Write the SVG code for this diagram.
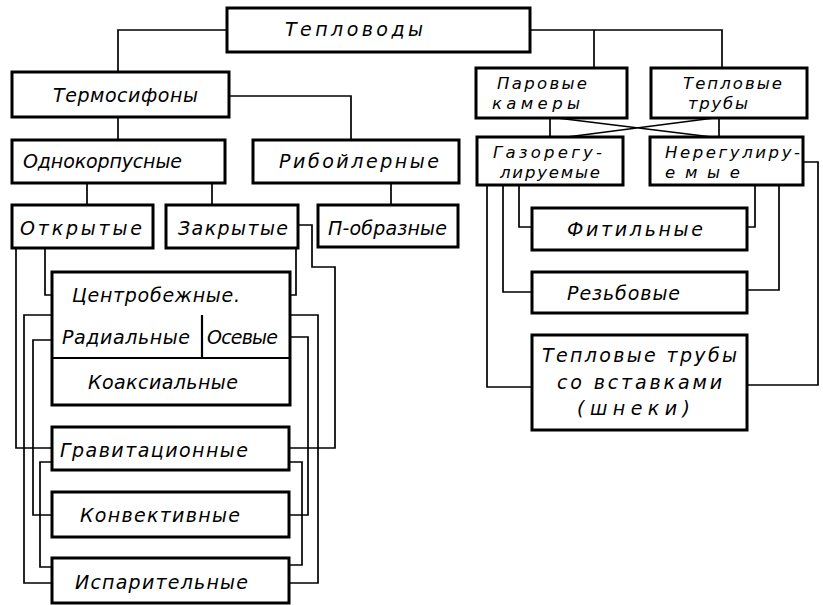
<svg xmlns="http://www.w3.org/2000/svg" width="823" height="605" viewBox="0 0 823 605">
<style>
.b{fill:#fff;stroke:#000;stroke-width:3}
.d{stroke:#000;stroke-width:2.2;fill:none}
.c{fill:none;stroke:#000;stroke-width:1.7}
text{font-family:"DejaVu Sans","Liberation Sans",sans-serif;font-style:italic;font-size:19px;fill:#000}
text.s{font-size:16.5px}
</style>
<rect width="823" height="605" fill="#fff"/>
<g id="connectors">
<path class="c" d="M227,30H118V72M530,30H722V68M594,30V68M229,96H351V140M118,117V140M87,183V205M212,183V205M391,183V205"/>
<path class="c" d="M16,248V448H52M45,248V295H52M296,248V295H290M298,225H312V267H335V448H289"/>
<path class="c" d="M52,583H24V315H318V583H289"/>
<path class="c" d="M52,340H33V515H52M290,337H308V515H289"/>
<path class="c" d="M52,462H40V567H52M289,462H302V565H289"/>
<path class="c" d="M550,118V137M719,118V137M557,118L712,137M567,137L714,118"/>
<path class="c" d="M487,185V387H532M503,185V292H532M519,185V227H532"/>
<path class="c" d="M755,185V227H747M779,185V290H747M803,162H818V385H747"/>
</g>
<g id="teplovody"><rect class="b" x="227" y="8" width="303" height="44"/><text x="285" y="36" textLength="138" lengthAdjust="spacing">Тепловоды</text></g>
<g id="termosifony"><rect class="b" x="12" y="72" width="217" height="45"/><text x="53" y="102" textLength="145" lengthAdjust="spacing">Термосифоны</text></g>
<g id="odnokorpusnye"><rect class="b" x="12" y="140" width="213" height="43"/><text x="23" y="168" textLength="159" lengthAdjust="spacing">Однокорпусные</text></g>
<g id="riboilernye"><rect class="b" x="253" y="140" width="206" height="43"/><text x="279" y="168" textLength="160" lengthAdjust="spacing">Рибойлерные</text></g>
<g id="otkrytye"><rect class="b" x="12" y="205" width="141" height="43"/><text x="20" y="235" textLength="122" lengthAdjust="spacing">Открытые</text></g>
<g id="zakrytye"><rect class="b" x="166" y="205" width="132" height="43"/><text x="178" y="235" textLength="110" lengthAdjust="spacing">Закрытые</text></g>
<g id="p-obraznye"><rect class="b" x="318" y="205" width="140" height="42"/><text x="328" y="235" textLength="119" lengthAdjust="spacing">П-образные</text></g>
<g id="centrobezhnye">
<rect class="b" x="52" y="272" width="238" height="133"/>
<path class="d" d="M52,358H290M202,315V358"/>
<text x="72" y="302" textLength="168" lengthAdjust="spacing">Центробежные.</text>
<text x="62" y="344" textLength="128" lengthAdjust="spacing">Радиальные</text>
<text x="207" y="344" textLength="71" lengthAdjust="spacing">Осевые</text>
<text x="88" y="389" textLength="150" lengthAdjust="spacing">Коаксиальные</text>
</g>
<g id="gravitacionnye"><rect class="b" x="52" y="427" width="237" height="43"/><text x="60" y="457" textLength="188" lengthAdjust="spacing">Гравитационные</text></g>
<g id="konvektivnye"><rect class="b" x="52" y="492" width="237" height="45"/><text x="80" y="522" textLength="160" lengthAdjust="spacing">Конвективные</text></g>
<g id="isparitelnye"><rect class="b" x="52" y="558" width="237" height="45"/><text x="75" y="589" textLength="173" lengthAdjust="spacing">Испарительные</text></g>
<g id="parovye-kamery"><rect class="b" x="476" y="68" width="151" height="50"/><text class="s" x="497" y="89" textLength="90" lengthAdjust="spacing">Паровые</text><text class="s" x="492" y="109" textLength="88" lengthAdjust="spacing">камеры</text></g>
<g id="teplovye-truby"><rect class="b" x="651" y="68" width="156" height="50"/><text class="s" x="683" y="89" textLength="99" lengthAdjust="spacing">Тепловые</text><text class="s" x="688" y="109" textLength="60" lengthAdjust="spacing">трубы</text></g>
<g id="gazoreguliruemye"><rect class="b" x="477" y="137" width="146" height="48"/><text class="s" x="493" y="158" textLength="109" lengthAdjust="spacing">Газорегу-</text><text class="s" x="500" y="178" textLength="100" lengthAdjust="spacing">лируемые</text></g>
<g id="nereguliruemye"><rect class="b" x="650" y="137" width="153" height="48"/><text class="s" x="665" y="158" textLength="135" lengthAdjust="spacing">Нерегулиру-</text><text class="s" x="665" y="178" textLength="75" lengthAdjust="spacing">емые</text></g>
<g id="fitilnye"><rect class="b" x="532" y="208" width="215" height="42"/><text x="567" y="236" textLength="136" lengthAdjust="spacing">Фитильные</text></g>
<g id="rezbovye"><rect class="b" x="532" y="272" width="215" height="41"/><text x="567" y="300" textLength="113" lengthAdjust="spacing">Резьбовые</text></g>
<g id="vstavki"><rect class="b" x="532" y="335" width="215" height="95"/><text x="542" y="362" textLength="195" lengthAdjust="spacing">Тепловые трубы</text><text x="557" y="389" textLength="165" lengthAdjust="spacing">со вставками</text><text x="577" y="415" textLength="113" lengthAdjust="spacing">(шнеки)</text></g>
</svg>
